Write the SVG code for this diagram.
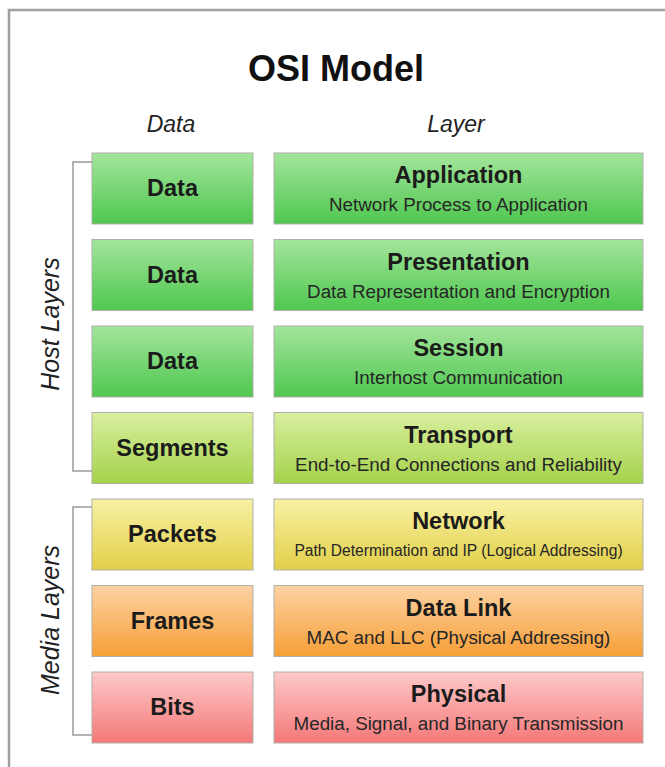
<svg xmlns="http://www.w3.org/2000/svg" width="665" height="767" viewBox="0 0 665 767">
<defs>
<linearGradient id="gGreen" x1="0" y1="0" x2="0" y2="1"><stop offset="0" stop-color="#a3e59c"/><stop offset="1" stop-color="#4fc74f"/></linearGradient>
<linearGradient id="gLime" x1="0" y1="0" x2="0" y2="1"><stop offset="0" stop-color="#d9ef9f"/><stop offset="1" stop-color="#a4d24a"/></linearGradient>
<linearGradient id="gYellow" x1="0" y1="0" x2="0" y2="1"><stop offset="0" stop-color="#f8f1a4"/><stop offset="1" stop-color="#e2cf48"/></linearGradient>
<linearGradient id="gOrange" x1="0" y1="0" x2="0" y2="1"><stop offset="0" stop-color="#fdd2a4"/><stop offset="1" stop-color="#f69f36"/></linearGradient>
<linearGradient id="gPink" x1="0" y1="0" x2="0" y2="1"><stop offset="0" stop-color="#fec9c9"/><stop offset="1" stop-color="#f47878"/></linearGradient>
</defs>
<style>
.frame{fill:#fff;stroke:#a0a0a0;stroke-width:2.5}
.box{stroke:#b0b0a8;stroke-width:1}
.lbl{font-family:"Liberation Sans",Arial,sans-serif;font-weight:bold;font-size:23.5px;fill:#1b1b1b;text-anchor:middle}
.ttl{font-family:"Liberation Sans",Arial,sans-serif;font-weight:bold;font-size:23.5px;fill:#1b1b1b;text-anchor:middle}
.sub{font-family:"Liberation Sans",Arial,sans-serif;font-size:18.8px;fill:#262626;text-anchor:middle}
.sub.small{font-size:15.6px}
.hdr{font-family:"Liberation Sans",Arial,sans-serif;font-style:italic;font-size:23px;fill:#222;text-anchor:middle}
.side{font-family:"Liberation Sans",Arial,sans-serif;font-style:italic;font-size:25px;fill:#222;text-anchor:middle}
.brk{fill:none;stroke:#999;stroke-width:1.5}
</style>
<rect class="frame" x="9" y="10" width="680" height="780"/>
<text x="336" y="81" font-family="Liberation Sans, Arial, sans-serif" font-weight="bold" font-size="36" fill="#111" text-anchor="middle">OSI Model</text>
<text class="hdr" x="171" y="132">Data</text>
<text class="hdr" x="456" y="132">Layer</text>
<text class="side" transform="translate(59,324) rotate(-90)">Host Layers</text>
<text class="side" transform="translate(59,620) rotate(-90)">Media Layers</text>
<g id="connectors">
<path class="brk" d="M92,162 H73 V471 H92"/>
<path class="brk" d="M92,507 H73 V735 H92"/>
</g>
<g id="data-application">
<rect class="box" x="92" y="153" width="161" height="71" fill="url(#gGreen)"/>
<text class="lbl" x="172.5" y="196">Data</text>
</g>
<g id="layer-application">
<rect class="box" x="274" y="153" width="369" height="71" fill="url(#gGreen)"/>
<text class="ttl" x="458.5" y="183">Application</text>
<text class="sub" x="458.5" y="211">Network Process to Application</text>
</g>
<g id="data-presentation">
<rect class="box" x="92" y="239.5" width="161" height="71" fill="url(#gGreen)"/>
<text class="lbl" x="172.5" y="282.5">Data</text>
</g>
<g id="layer-presentation">
<rect class="box" x="274" y="239.5" width="369" height="71" fill="url(#gGreen)"/>
<text class="ttl" x="458.5" y="269.5">Presentation</text>
<text class="sub" x="458.5" y="297.5">Data Representation and Encryption</text>
</g>
<g id="data-session">
<rect class="box" x="92" y="326" width="161" height="71" fill="url(#gGreen)"/>
<text class="lbl" x="172.5" y="369">Data</text>
</g>
<g id="layer-session">
<rect class="box" x="274" y="326" width="369" height="71" fill="url(#gGreen)"/>
<text class="ttl" x="458.5" y="356">Session</text>
<text class="sub" x="458.5" y="384">Interhost Communication</text>
</g>
<g id="data-transport">
<rect class="box" x="92" y="412.5" width="161" height="71" fill="url(#gLime)"/>
<text class="lbl" x="172.5" y="455.5">Segments</text>
</g>
<g id="layer-transport">
<rect class="box" x="274" y="412.5" width="369" height="71" fill="url(#gLime)"/>
<text class="ttl" x="458.5" y="442.5">Transport</text>
<text class="sub" x="458.5" y="470.5">End-to-End Connections and Reliability</text>
</g>
<g id="data-network">
<rect class="box" x="92" y="499" width="161" height="71" fill="url(#gYellow)"/>
<text class="lbl" x="172.5" y="542">Packets</text>
</g>
<g id="layer-network">
<rect class="box" x="274" y="499" width="369" height="71" fill="url(#gYellow)"/>
<text class="ttl" x="458.5" y="529">Network</text>
<text class="sub small" x="458.5" y="555.5">Path Determination and IP (Logical Addressing)</text>
</g>
<g id="data-datalink">
<rect class="box" x="92" y="585.5" width="161" height="71" fill="url(#gOrange)"/>
<text class="lbl" x="172.5" y="628.5">Frames</text>
</g>
<g id="layer-datalink">
<rect class="box" x="274" y="585.5" width="369" height="71" fill="url(#gOrange)"/>
<text class="ttl" x="458.5" y="615.5">Data Link</text>
<text class="sub" x="458.5" y="643.5">MAC and LLC (Physical Addressing)</text>
</g>
<g id="data-physical">
<rect class="box" x="92" y="672" width="161" height="71" fill="url(#gPink)"/>
<text class="lbl" x="172.5" y="715">Bits</text>
</g>
<g id="layer-physical">
<rect class="box" x="274" y="672" width="369" height="71" fill="url(#gPink)"/>
<text class="ttl" x="458.5" y="702">Physical</text>
<text class="sub" x="458.5" y="730">Media, Signal, and Binary Transmission</text>
</g>
</svg>
